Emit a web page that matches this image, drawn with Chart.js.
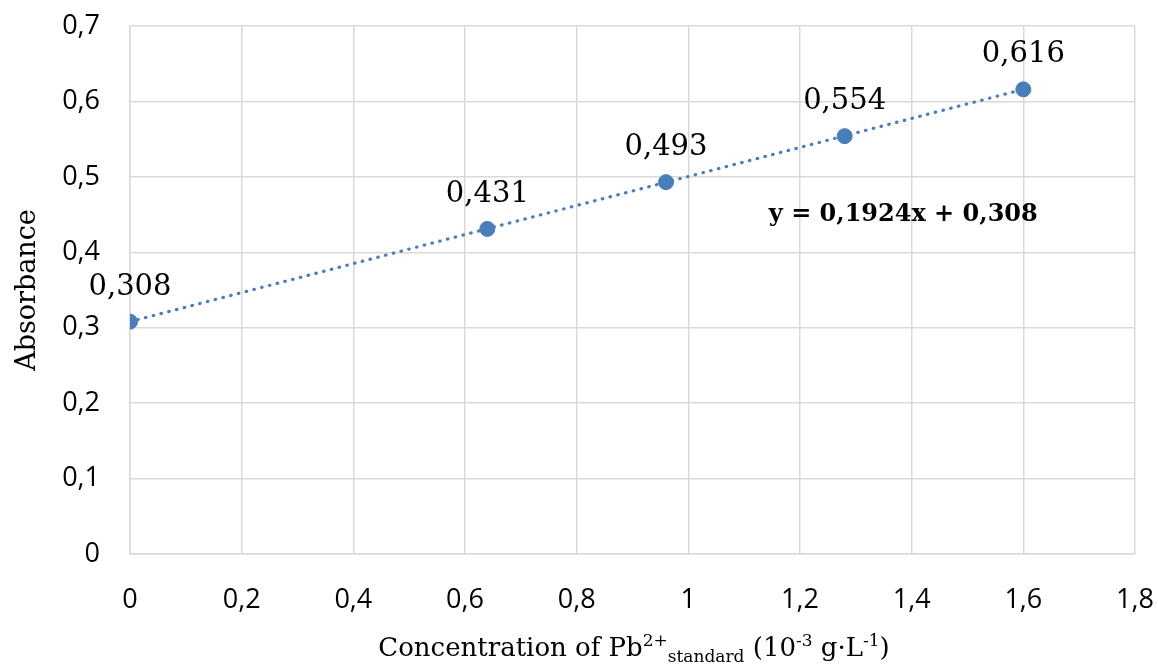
<!DOCTYPE html>
<html>
<head>
<meta charset="utf-8">
<script src="https://cdn.jsdelivr.net/npm/chart.js@4"></script>
<style>
  html, body { margin: 0; padding: 0; background: #fff; }
  #wrap { position: relative; width: 1158px; height: 671px; }
  #xTitle {
    position: absolute; left: 0; width: 1158px; top: 630px;
    text-align: center; font-family: "DejaVu Serif", serif; font-size: 26px; color: #000;
    padding-left: 110px; box-sizing: border-box; white-space: nowrap;
  }
  #xTitle sup, #xTitle sub { font-size: 17px; }
</style>
</head>
<body>
<div id="wrap">
  <canvas id="myChart" width="1158" height="671"></canvas>
  <div id="xTitle">Concentration of Pb<sup>2+</sup><sub>standard</sub> (10<sup>-3</sup> g·L<sup>-1</sup>)</div>
</div>
<script>
// Dados
const concentracoes = [0, 0.64, 0.96, 1.28, 1.6];
const absorbancias = [0.308, 0.431, 0.493, 0.554, 0.616];
const rotulos = ["0,308", "0,431", "0,493", "0,554", "0,616"];

// Linha de tendência (extremos)
const tendenciaX = [0, 1.6];
const tendenciaY = [0.308, 0.616];
const equacao = "y = 0,1924x + 0,308";

const azul = "#4a7ebb";

// === Plugin para os rótulos dos pontos e a equação ===
const rotulosPlugin = {
    id: "rotulos",
    afterDatasetsDraw(chart) {
        const ctx = chart.ctx;
        const meta = chart.getDatasetMeta(1);
        ctx.save();
        ctx.fillStyle = "#000";
        ctx.font = "29px 'DejaVu Serif'";
        ctx.textAlign = "center";
        ctx.textBaseline = "alphabetic";
        meta.data.forEach((p, i) => {
            ctx.fillText(rotulos[i], p.x, p.y - 27);
        });

        // Equação da reta
        const x = chart.scales.x.getPixelForValue(1.385);
        const y = chart.scales.y.getPixelForValue(0.45);
        ctx.font = "bold 24px 'DejaVu Serif'";
        ctx.textBaseline = "middle";
        ctx.fillText(equacao, x, y);
        ctx.restore();
    },
};

new Chart("myChart", {
    type: "scatter",
    data: {
        datasets: [
            {
                data: tendenciaX.map((x, i) => ({ x: x, y: tendenciaY[i] })),
                showLine: true,
                borderColor: azul,
                borderWidth: 3.2,
                borderCapStyle: "round",
                borderDash: [0.5, 7.5],
                pointRadius: 0,
            },
            {
                data: concentracoes.map((x, i) => ({ x: x, y: absorbancias[i] })),
                backgroundColor: azul,
                borderColor: azul,
                pointRadius: 7.5,
            },
        ],
    },
    options: {
        responsive: false,
        animation: false,
        layout: { padding: { left: 0, right: 23, top: 26, bottom: 0 } },
        plugins: {
            legend: { display: false },
            tooltip: { enabled: false },
        },
        scales: {
            x: {
                min: 0,
                max: 1.8,
                afterFit: (s) => {
                    s.height = 117;
                    s.paddingLeft = 0;
                    s.paddingRight = 0;
                },
                grid: { color: "#d9d9d9", lineWidth: 1.5, drawTicks: false },
                border: { color: "#d9d9d9", width: 1.5 },
                ticks: {
                    stepSize: 0.2,
                    padding: 30,
                    color: "#000",
                    font: { family: "'Open Sans'", size: 27 },
                    callback: (v) => String(Math.round(v * 10) / 10).replace(".", ","),
                },
            },
            y: {
                min: 0,
                max: 0.7,
                afterFit: (s) => {
                    s.width = 130;
                    s.paddingTop = 0;
                    s.paddingBottom = 0;
                },
                grid: { color: "#d9d9d9", lineWidth: 1.5, drawTicks: false },
                border: { color: "#d9d9d9", width: 1.5 },
                title: {
                    display: true,
                    text: "Absorbance",
                    color: "#000",
                    font: { family: "'DejaVu Serif'", size: 27 },
                    padding: { top: 12, bottom: 6 },
                },
                ticks: {
                    stepSize: 0.1,
                    padding: 30,
                    color: "#000",
                    font: { family: "'Open Sans'", size: 27 },
                    callback: (v) => String(Math.round(v * 10) / 10).replace(".", ","),
                },
            },
        },
    },
    plugins: [rotulosPlugin],
});
</script>
</body>
</html>
